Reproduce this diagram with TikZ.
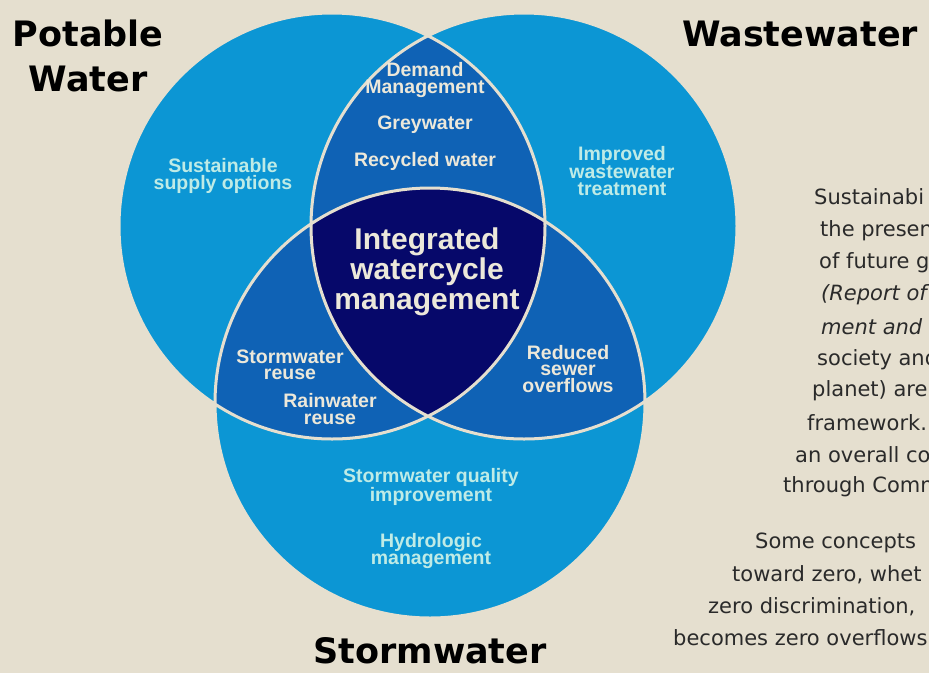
\documentclass[tikz,border=0pt]{standalone}
\usepackage{fontspec}
\usepackage{tikz}
\newfontfamily\headfont{DejaVu Sans}
\newfontfamily\zonefont{Liberation Sans}
\newfontfamily\notefont{DejaVu Sans}
\definecolor{paper}{HTML}{E5DFCF}
\definecolor{skyblue}{HTML}{0C96D4}
\definecolor{midblue}{HTML}{0F62B5}
\definecolor{deepnavy}{HTML}{06086A}
\definecolor{paletext}{HTML}{BFEBE6}
\definecolor{creamtext}{HTML}{ECE8DA}
\definecolor{inktext}{HTML}{2A2A2A}

\begin{document}
\begin{tikzpicture}[x=1pt,y=-1pt]
    % Define styles for zones and labels
    \tikzstyle{heading} = [font=\headfont\bfseries\fontsize{35}{45}\selectfont, align=center, inner sep=0pt]
    \tikzstyle{outerzone} = [font=\zonefont\bfseries\fontsize{19.5}{16.5}\selectfont, text=paletext, align=center, inner sep=0pt]
    \tikzstyle{innerzone} = [outerzone, text=creamtext]
    \tikzstyle{corezone} = [font=\zonefont\bfseries\fontsize{30}{30}\selectfont, text=creamtext, align=center, inner sep=0pt]
    \tikzstyle{ring} = [draw=paper, line width=3pt]
    \tikzstyle{note} = [font=\notefont\fontsize{21}{32}\selectfont, text=inktext, anchor=west, inner sep=0pt]

    % Page
    \fill[paper] (0,0) rectangle (929,673);
    \useasboundingbox (0,0) rectangle (929,673);
    \clip (0,0) rectangle (929,673);

    % Circles
    \coordinate (potable) at (332,226);
    \coordinate (waste) at (524,226);
    \coordinate (storm) at (430,403);
    \fill[skyblue] (potable) circle[radius=213pt] (waste) circle[radius=213pt] (storm) circle[radius=215pt];
    \begin{scope}
        \clip (potable) circle[radius=213pt];
        \fill[midblue] (waste) circle[radius=213pt];
        \fill[midblue] (storm) circle[radius=215pt];
    \end{scope}
    \begin{scope}
        \clip (waste) circle[radius=213pt];
        \fill[midblue] (storm) circle[radius=215pt];
    \end{scope}
    \begin{scope}
        \clip (potable) circle[radius=213pt];
        \clip (waste) circle[radius=213pt];
        \fill[deepnavy] (storm) circle[radius=215pt];
    \end{scope}
    \draw[ring] (potable) circle[radius=213pt] (waste) circle[radius=213pt] (storm) circle[radius=215pt];

    % Headings
    \node (potablehead) [heading] at (88,56) {Potable\\Water};
    \node (wastehead) [heading] at (800,34) {Wastewater};
    \node (stormhead) [heading] at (430,651) {Stormwater};

    % Zone texts
    \node (supply) [outerzone] at (223,176) {Sustainable\\supply options};
    \node (treatment) [outerzone] at (622,171) {Improved\\wastewater\\treatment};
    \node (quality) [outerzone] at (431,487) {Stormwater quality\\improvement};
    \node (hydro) [outerzone] at (431,551) {Hydrologic\\management};
    \node (demand) [innerzone] at (425,80) {Demand\\Management};
    \node (grey) [innerzone] at (425,125) {Greywater};
    \node (recycled) [innerzone] at (425,161) {Recycled water};
    \node (swreuse) [innerzone] at (290,365) {Stormwater\\reuse};
    \node (rainreuse) [innerzone] at (330,409) {Rainwater\\reuse};
    \node (sewer) [innerzone] at (568,369) {Reduced\\sewer\\overflows};
    \node (integrated) [corezone] at (427,272) {Integrated\\watercycle\\management};

    % Side notes
    \node (n1) [note] at (814,197) {Sustainabi};
    \node (n2) [note] at (820,231) {the presen};
    \node (n3) [note] at (819,263) {of future g};
    \node (n4) [note, font=\notefont\itshape\fontsize{21}{32}\selectfont] at (821,295) {(Report of};
    \node (n5) [note, font=\notefont\itshape\fontsize{21}{32}\selectfont] at (821,327) {ment and};
    \node (n6) [note] at (817,360) {society and};
    \node (n7) [note] at (812,391) {planet) are};
    \node (n8) [note] at (807,423) {framework.};
    \node (n9) [note] at (795,455) {an overall co};
    \node (n10) [note] at (783,487) {through Comm};
    \node (n11) [note] at (755,543) {Some concepts};
    \node (n12) [note] at (732,575) {toward zero, whet};
    \node (n13) [note] at (708,607) {zero discrimination,};
    \node (n14) [note] at (673,638) {becomes zero overflows};
\end{tikzpicture}
\end{document}
